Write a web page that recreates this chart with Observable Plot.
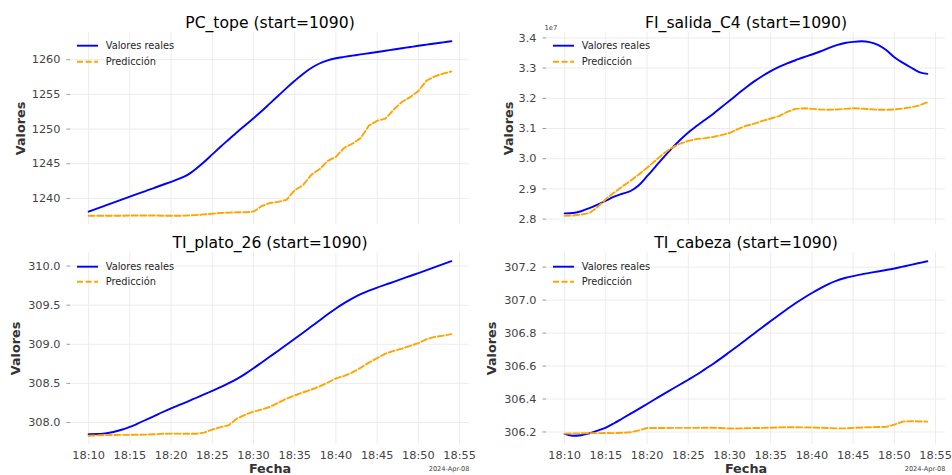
<!DOCTYPE html>
<html>
<head>
<meta charset="utf-8">
<script src="https://cdn.jsdelivr.net/npm/d3@7"></script>
<script src="https://cdn.jsdelivr.net/npm/@observablehq/plot@0.6"></script>
<style>
  html, body { margin: 0; padding: 0; background: #fff; }
  #wrap { position: relative; width: 952px; height: 475px; overflow: hidden; background: #fff; font-family: "DejaVu Sans", sans-serif; }
  .panel { position: absolute; width: 476px; }
  .panel svg { overflow: visible; }
</style>
</head>
<body>
<div id="wrap"></div>
<script>
// ---------- DATA ----------
const fecha = "2024-04-08";
const tiempos = ["18:10","18:11","18:12","18:13","18:14","18:15","18:16","18:17","18:18","18:19",
  "18:20","18:21","18:22","18:23","18:24","18:25","18:26","18:27","18:28","18:29",
  "18:30","18:31","18:32","18:33","18:34","18:35","18:36","18:37","18:38","18:39",
  "18:40","18:41","18:42","18:43","18:44","18:45","18:46","18:47","18:48","18:49",
  "18:50","18:51","18:52","18:53","18:54"];

const pcTopeReal = [1238.10,1238.53,1238.96,1239.39,1239.82,1240.25,1240.68,1241.11,1241.54,1241.97,
  1242.40,1242.85,1243.40,1244.25,1245.25,1246.35,1247.45,1248.50,1249.55,1250.55,
  1251.55,1252.60,1253.70,1254.80,1255.90,1256.95,1257.95,1258.80,1259.45,1259.90,
  1260.20,1260.40,1260.58,1260.76,1260.93,1261.10,1261.28,1261.46,1261.64,1261.82,
  1262.00,1262.17,1262.34,1262.50,1262.66];
const pcTopePred = [1237.5,1237.5,1237.5,1237.5,1237.5,1237.55,1237.55,1237.55,1237.55,1237.5,
  1237.5,1237.5,1237.55,1237.6,1237.7,1237.8,1237.9,1237.95,1238.0,1238.0,
  1238.1,1238.9,1239.35,1239.5,1239.8,1241.2,1241.9,1243.4,1244.2,1245.4,
  1246.0,1247.3,1247.9,1248.7,1250.5,1251.2,1251.5,1252.8,1253.9,1254.6,
  1255.5,1257.0,1257.6,1258.0,1258.3];

const fiSalidaReal = [2.819e7,2.820e7,2.826e7,2.836e7,2.848e7,2.861e7,2.874e7,2.884e7,2.893e7,2.912e7,
  2.942e7,2.973e7,3.004e7,3.034e7,3.062e7,3.087e7,3.108e7,3.128e7,3.148e7,3.170e7,
  3.192e7,3.214e7,3.236e7,3.256e7,3.274e7,3.290e7,3.304e7,3.316e7,3.326e7,3.336e7,
  3.345e7,3.355e7,3.366e7,3.376e7,3.383e7,3.387e7,3.389e7,3.386e7,3.377e7,3.360e7,
  3.336e7,3.318e7,3.302e7,3.287e7,3.281e7];
const fiSalidaPred = [2.811e7,2.812e7,2.815e7,2.820e7,2.840e7,2.866e7,2.888e7,2.908e7,2.927e7,2.948e7,
  2.970e7,2.993e7,3.017e7,3.036e7,3.050e7,3.059e7,3.065e7,3.068e7,3.072e7,3.078e7,
  3.085e7,3.098e7,3.109e7,3.116e7,3.125e7,3.133e7,3.141e7,3.155e7,3.165e7,3.167e7,
  3.165e7,3.163e7,3.162e7,3.163e7,3.165e7,3.167e7,3.166e7,3.164e7,3.162e7,3.162e7,
  3.163e7,3.166e7,3.170e7,3.176e7,3.187e7];

const tiPlatoReal = [307.851,307.852,307.860,307.878,307.907,307.943,307.988,308.036,308.085,308.134,
  308.180,308.224,308.268,308.313,308.358,308.405,308.452,308.502,308.558,308.622,
  308.693,308.768,308.843,308.918,308.994,309.070,309.148,309.226,309.304,309.383,
  309.458,309.526,309.587,309.640,309.685,309.725,309.762,309.799,309.836,309.873,
  309.910,309.948,309.986,310.024,310.062];
const tiPlatoPred = [307.830,307.835,307.838,307.840,307.842,307.842,307.843,307.845,307.850,307.855,
  307.858,307.857,307.855,307.855,307.870,307.910,307.940,307.965,308.050,308.100,
  308.140,308.165,308.200,308.250,308.305,308.345,308.385,308.420,308.460,308.510,
  308.565,308.595,308.640,308.700,308.765,308.823,308.880,308.915,308.945,308.980,
  309.015,309.065,309.095,309.110,309.130];

const tiCabezaReal = [306.188,306.177,306.180,306.192,306.208,306.227,306.253,306.282,306.311,306.340,
  306.370,306.400,306.430,306.459,306.488,306.517,306.547,306.580,306.613,306.648,
  306.685,306.722,306.760,306.798,306.836,306.873,306.910,306.946,306.981,307.013,
  307.043,307.071,307.097,307.118,307.134,307.146,307.156,307.165,307.174,307.183,
  307.192,307.203,307.214,307.225,307.236];
const tiCabezaPred = [306.190,306.191,306.192,306.193,306.193,306.194,306.193,306.195,306.198,306.210,
  306.224,306.224,306.224,306.225,306.225,306.225,306.225,306.226,306.226,306.224,
  306.221,306.221,306.223,306.224,306.225,306.226,306.228,306.229,306.229,306.228,
  306.227,306.226,306.224,306.222,306.222,306.225,306.227,306.229,306.230,306.231,
  306.245,306.263,306.266,306.264,306.263];

const ticksPC = [1240, 1245, 1250, 1255, 1260];
const ticksFI = [2.8e7, 2.9e7, 3.0e7, 3.1e7, 3.2e7, 3.3e7, 3.4e7];
const ticksPlato = [308.0, 308.5, 309.0, 309.5, 310.0];
const ticksCabeza = [306.2, 306.4, 306.6, 306.8, 307.0, 307.2];
const xTickLabels = ["18:10","18:15","18:20","18:25","18:30","18:35","18:40","18:45","18:50","18:55"];

const titulos = ["PC_tope (start=1090)", "FI_salida_C4 (start=1090)", "TI_plato_26 (start=1090)", "TI_cabeza (start=1090)"];
const serieReal = "Valores reales";
const seriePred = "Predicción";
const etiquetaY = "Valores";
const etiquetaX = "Fecha";
const offsetFecha = "2024-Apr-08";
const offsetFI = "1e7";

// ---------- BUILD ----------
const toDate = s => new Date(`${fecha}T${s}:00Z`);
const times = tiempos.map(toDate);
const xTicks = xTickLabels.map(toDate);
const tMin = times[0], tMax = times[times.length - 1];
const xPad = (tMax - tMin) * 0.05;
const xDomain = [new Date(+tMin - xPad), new Date(+tMax + xPad)];

function padDomain(a, b) {
  const all = a.concat(b);
  const lo = d3.min(all), hi = d3.max(all), p = (hi - lo) * 0.05;
  return [lo - p, hi + p];
}

const panels = [
  {real: pcTopeReal, pred: pcTopePred, ticks: ticksPC, fmt: d => d3.format("d")(d), title: titulos[0], left: 0, top: 0, bottom: false, ylabDx: -50, offset: null},
  {real: fiSalidaReal, pred: fiSalidaPred, ticks: ticksFI, fmt: d => (d / 1e7).toFixed(1), title: titulos[1], left: 476, top: 0, bottom: false, ylabDx: -38, offset: offsetFI},
  {real: tiPlatoReal, pred: tiPlatoPred, ticks: ticksPlato, fmt: d => d.toFixed(1), title: titulos[2], left: 0, top: 237, bottom: true, ylabDx: -55, offset: null},
  {real: tiCabezaReal, pred: tiCabezaPred, ticks: ticksCabeza, fmt: d => d.toFixed(1), title: titulos[3], left: 476, top: 237, bottom: true, ylabDx: -55, offset: null}
];

const wrap = document.getElementById("wrap");
const FONT = "DejaVu Sans";
const gridColor = "#ececec";
const DASH = "6,2.6";

for (const p of panels) {
  const rows = times.map((t, i) => ({t, real: p.real[i], pred: p.pred[i]}));
  const H = p.bottom ? 238 : 237;
  const mTop = p.bottom ? 15 : 32;
  const mBottom = p.bottom ? 31 : 13;
  const marks = [
    Plot.gridX(xTicks, {stroke: gridColor, strokeOpacity: 1}),
    Plot.gridY(p.ticks, {stroke: gridColor, strokeOpacity: 1}),
    Plot.axisY(p.ticks, {tickFormat: p.fmt, tickSize: 3.5, tickPadding: 6.5, fontSize: 11.3, fill: "#444", stroke: "#999", label: null}),
    Plot.lineY(rows, {x: "t", y: "real", stroke: "#0000ff", strokeWidth: 1.9, curve: "monotone-x"}),
    Plot.lineY(rows, {x: "t", y: "pred", stroke: "#ffa500", strokeWidth: 1.9, strokeDasharray: DASH}),
    Plot.text([p.title], {text: d => d, frameAnchor: "top", dy: p.bottom ? -4.5 : -5, lineAnchor: "bottom", fontSize: 15.6, fill: "#000"}),
    Plot.text([etiquetaY], {text: d => d, frameAnchor: "left", dx: p.ylabDx, rotate: -90, textAnchor: "middle", lineAnchor: "middle", fontSize: 12.8, fontWeight: "bold", fill: "#333"})
  ];
  if (p.bottom) {
    marks.push(Plot.axisX(xTicks, {tickFormat: d3.utcFormat("%H:%M"), tickSize: 0, tickPadding: 6.5, fontSize: 11.3, fill: "#444", label: null}));
    marks.push(Plot.text([etiquetaX], {text: d => d, frameAnchor: "bottom", dy: 28, lineAnchor: "bottom", fontSize: 12.8, fontWeight: "bold", fill: "#333"}));
    marks.push(Plot.text([offsetFecha], {text: d => d, frameAnchor: "bottom-right", dy: 26.5, lineAnchor: "bottom", textAnchor: "end", fontSize: 6.6, fill: "#444"}));
  }
  if (p.offset) {
    marks.push(Plot.text([p.offset], {text: d => d, frameAnchor: "top-left", dx: -2, dy: -3, lineAnchor: "bottom", textAnchor: "start", fontSize: 6.8, fill: "#444"}));
  }
  const svg = Plot.plot({
    width: 476,
    height: H,
    marginLeft: 70,
    marginRight: 7,
    marginTop: mTop,
    marginBottom: mBottom,
    style: {fontFamily: FONT, fontSize: "11.3px", background: "transparent", overflow: "visible"},
    x: {type: "utc", domain: xDomain, axis: p.bottom ? undefined : null},
    y: {domain: padDomain(p.real, p.pred)},
    marks
  });
  // legend (upper-left inside the plot frame)
  const lg = d3.select(svg).append("g")
    .attr("transform", `translate(${70 + 7},${mTop + (p.bottom ? 14.7 : 13.7)})`)
    .attr("font-family", FONT).attr("font-size", 9.8).attr("text-anchor", "start");
  const items = [
    {label: serieReal, color: "#0000ff", dash: null},
    {label: seriePred, color: "#ffa500", dash: DASH}
  ];
  items.forEach((it, i) => {
    const g = lg.append("g").attr("transform", `translate(0,${i * (p.bottom ? 15 : 16)})`);
    const ln = g.append("line").attr("x1", 0).attr("x2", 21).attr("y1", 0).attr("y2", 0)
      .attr("stroke", it.color).attr("stroke-width", 1.9);
    if (it.dash) ln.attr("stroke-dasharray", it.dash);
    g.append("text").attr("x", 28.7).attr("y", 0).attr("dy", "0.35em")
      .attr("text-anchor", "start").attr("fill", "#262626").text(it.label);
  });
  const div = document.createElement("div");
  div.className = "panel";
  div.style.left = p.left + "px";
  div.style.top = p.top + "px";
  div.appendChild(svg);
  wrap.appendChild(div);
}
</script>
</body>
</html>
